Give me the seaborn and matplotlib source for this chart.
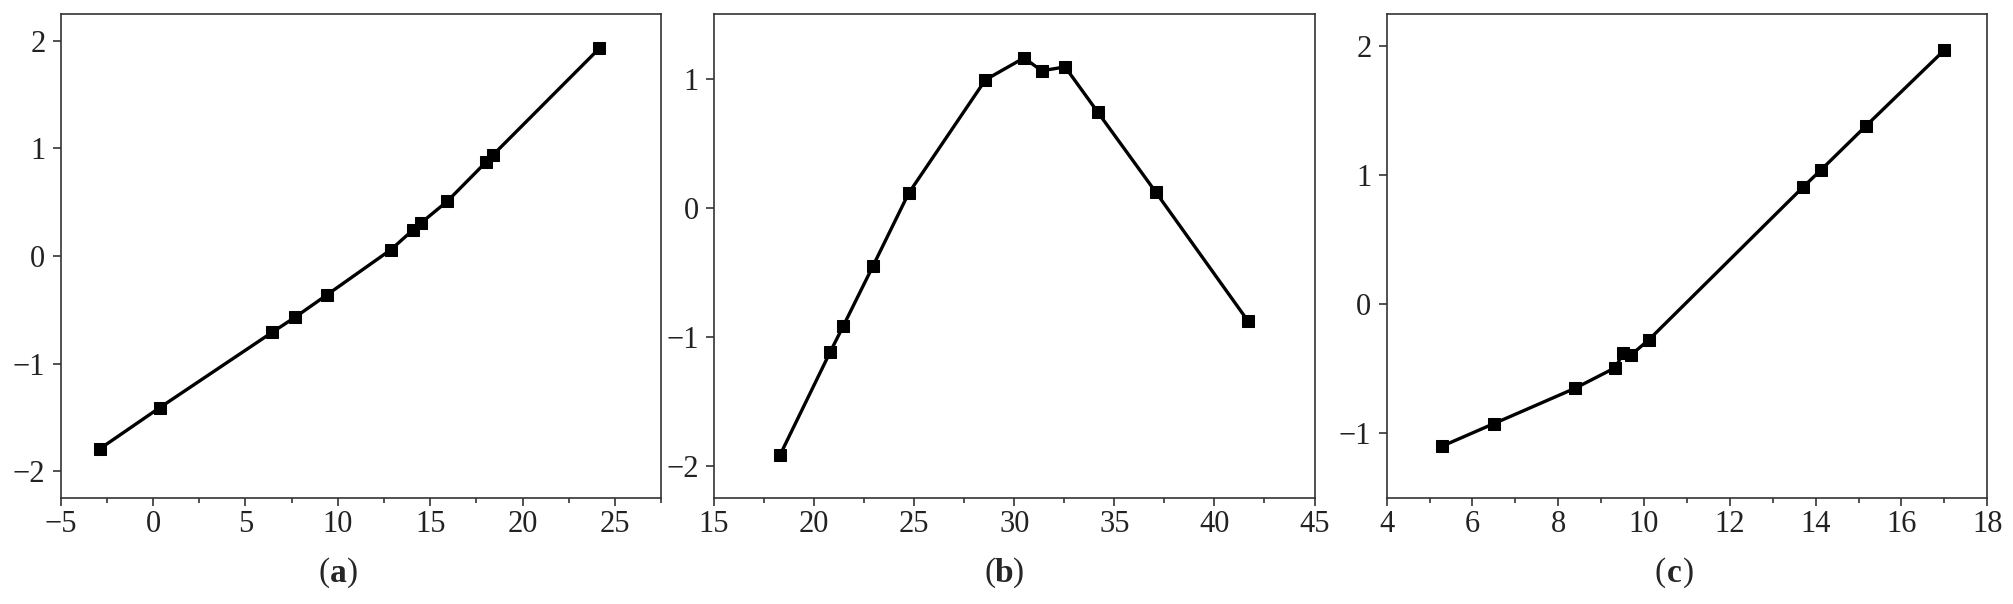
import pandas as pd
import matplotlib
matplotlib.use("Agg")
import matplotlib.pyplot as plt
import seaborn as sns
from matplotlib.ticker import MultipleLocator

# panel (a)
a_x = [-2.86, 0.36, 6.44, 7.68, 9.42, 12.88, 14.05, 14.52, 15.93, 18.0, 18.40, 24.15]
a_y = [-1.79, -1.41, -0.71, -0.57, -0.36, 0.06, 0.24, 0.31, 0.51, 0.87, 0.94, 1.93]

# panel (b)
b_x = [18.29, 20.80, 21.45, 22.95, 24.72, 28.56, 30.49, 31.37, 32.54, 34.17, 37.07, 41.66]
b_y = [-1.92, -1.12, -0.92, -0.45, 0.11, 0.99, 1.16, 1.06, 1.09, 0.74, 0.12, -0.875]

# panel (c)
c_x = [5.28, 6.49, 8.39, 9.33, 9.51, 9.70, 10.11, 13.71, 14.12, 15.18, 17.00]
c_y = [-1.10, -0.925, -0.65, -0.49, -0.38, -0.39, -0.275, 0.91, 1.04, 1.385, 1.97]

panel_labels = ["a", "b", "c"]

sns.set_style("ticks")
plt.rcParams['font.family'] = ['Liberation Serif', 'DejaVu Serif']

fig = plt.figure(figsize=(20.13, 6.04), dpi=100)

lefts = [60.7 / 2013, 714 / 2013, 1386.7 / 2013]
bottom = 1 - 498 / 604
height = 484 / 604
width = 600.5 / 2013

settings = [
    (a_x, a_y, (-5, 27.5), (-2.25, 2.25), 5, 2.5, [-2, -1, 0, 1, 2]),
    (b_x, b_y, (15, 45), (-2.25, 1.5), 5, 2.5, [-2, -1, 0, 1]),
    (c_x, c_y, (4, 18), (-1.5, 2.25), 2, 1, [-1, 0, 1, 2]),
]
label_x = [338 / 2013, 1004 / 2013, 1674 / 2013]

for i, (xs, ys, xlim, ylim, xmaj, xmin, yt) in enumerate(settings):
    ax = fig.add_axes([lefts[i], bottom, width, height])
    df = pd.DataFrame({'x': xs, 'y': ys})
    sns.lineplot(data=df, x='x', y='y', sort=False, ax=ax, color='black',
                 linewidth=2.4, marker='s', markersize=8, markeredgecolor='black',
                 markerfacecolor='black')
    ax.set_xlim(*xlim)
    ax.set_ylim(*ylim)
    ax.xaxis.set_major_locator(MultipleLocator(xmaj))
    ax.xaxis.set_minor_locator(MultipleLocator(xmin))
    ax.set_yticks(yt)
    ax.set_xlabel('')
    ax.set_ylabel('')
    for sp in ax.spines.values():
        sp.set_visible(True)
        sp.set_linewidth(1.2)
        sp.set_color('#333333')
    ax.tick_params(axis='both', which='major', labelsize=22, length=6, width=1.2,
                   color='#333333', labelcolor='#222222', direction='out')
    ax.tick_params(axis='x', which='minor', length=3.5, width=1.2, color='#333333')
    ax.tick_params(axis='x', which='major', pad=3)
    ax.tick_params(axis='y', which='major', pad=5)

    # panel caption: regular brackets, bold letter
    y = 1 - 573 / 604
    fig.text(label_x[i] - 0.007, y, '(', ha='center', va='center', fontsize=24)
    fig.text(label_x[i], y, panel_labels[i], ha='center', va='center', fontsize=24,
             fontweight='bold')
    fig.text(label_x[i] + 0.007, y, ')', ha='center', va='center', fontsize=24)

fig.savefig('out.png', dpi=100)
